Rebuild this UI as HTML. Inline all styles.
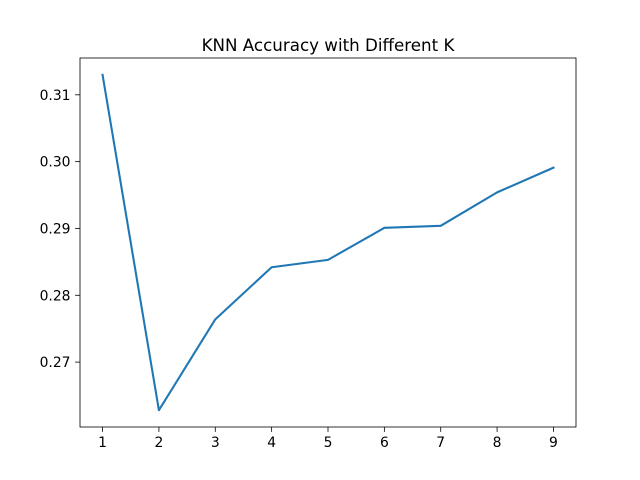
<!DOCTYPE html>
<html><head><meta charset="utf-8"><style>body{margin:0;background:#fff}svg{display:block;font-family:"DejaVu Sans","Liberation Sans",sans-serif}</style></head>
<body>
<svg id="chart" width="640" height="480" xmlns="http://www.w3.org/2000/svg">
<rect width="640" height="480" fill="#fff"/>
<text x="328" y="51" font-size="16.7" text-anchor="middle">KNN Accuracy with Different K</text>
<g id="plot"></g>
<rect x="80" y="58" width="496" height="369" fill="none" stroke="#000" stroke-width="0.8"/>
</svg>
<script>
const kValues=[1,2,3,4,5,6,7,8,9];
const accuracy=[0.3130,0.2628,0.2764,0.2842,0.2853,0.2901,0.2904,0.2954,0.2991];
const yTicks=[0.27,0.28,0.29,0.30,0.31];
const yTickLabels=["0.27","0.28","0.29","0.30","0.31"];
const L=80,R=576,T=58,B=427;
const xmin=Math.min(...kValues),xmax=Math.max(...kValues),xm=(xmax-xmin)*0.05;
const ymin0=Math.min(...accuracy),ymax0=Math.max(...accuracy),ym=(ymax0-ymin0)*0.05;
const x=v=>L+(v-(xmin-xm))/((xmax+xm)-(xmin-xm))*(R-L);
const y=v=>B-(v-(ymin0-ym))/((ymax0+ym)-(ymin0-ym))*(B-T);
const g=document.getElementById('plot');const NS="http://www.w3.org/2000/svg";
function mk(t,a){const e=document.createElementNS(NS,t);for(const k in a)e.setAttribute(k,a[k]);g.appendChild(e);return e;}
kValues.forEach(k=>{const px=x(k);
const t=mk('line',{x1:px,x2:px,y1:B,y2:B+4.9,stroke:'#000','stroke-width':0.8});


const l=mk('text',{x:px,y:B+20,'font-size':13.9,'text-anchor':'middle'});l.textContent=k;

});
yTicks.forEach((v,i)=>{const py=y(v);
const t=mk('line',{x1:L-4.9,x2:L,y1:py,y2:py,stroke:'#000','stroke-width':0.8});


const l=mk('text',{x:L-9.5,y:py+5,'font-size':13.9,'text-anchor':'end'});l.textContent=yTickLabels[i];

});
const p=mk('polyline',{points:kValues.map((k,i)=>x(k)+','+y(accuracy[i])).join(' '),fill:'none',stroke:'#1f77b4','stroke-width':2.08,'stroke-linejoin':'round','stroke-linecap':'square'});


</script>
</body></html>
